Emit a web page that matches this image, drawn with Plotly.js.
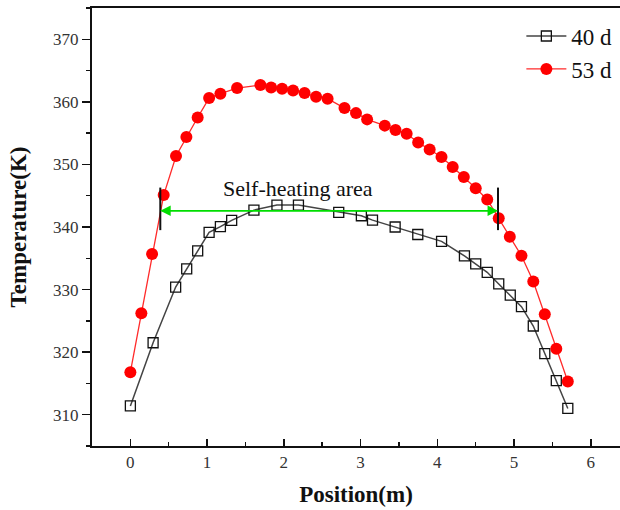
<!DOCTYPE html>
<html><head><meta charset="utf-8">
<script src="https://cdn.plot.ly/plotly-3.0.1.min.js"></script>
<style>html,body{margin:0;padding:0;overflow:hidden;background:#fff}</style>
</head><body><div id="chart" style="width:620px;height:510px"></div>
<script>
const pos40 = [0, 0.296, 0.590, 0.734, 0.877, 1.026, 1.173, 1.32, 1.61, 1.91, 2.19, 2.715, 3.01, 3.155, 3.45, 3.745, 4.055, 4.353, 4.50, 4.65, 4.80, 4.95, 5.096, 5.25, 5.40, 5.55, 5.70];
const temp40 = [311.4, 321.5, 330.4, 333.3, 336.2, 339.15, 340.05, 341.07, 342.7, 343.5, 343.5, 342.35, 341.8, 341.1, 340.0, 338.8, 337.7, 335.37, 334.1, 332.76, 330.9, 329.1, 327.26, 324.18, 319.75, 315.44, 311.0];
const pos53 = [0, 0.143, 0.283, 0.434, 0.595, 0.730, 0.877, 1.026, 1.173, 1.39, 1.694, 1.834, 1.977, 2.12, 2.27, 2.42, 2.57, 2.79, 2.94, 3.085, 3.315, 3.455, 3.60, 3.75, 3.90, 4.054, 4.20, 4.345, 4.50, 4.65, 4.80, 4.944, 5.096, 5.25, 5.40, 5.55, 5.70];
const temp53 = [316.8, 326.2, 335.7, 345.1, 351.35, 354.4, 357.5, 360.6, 361.3, 362.2, 362.7, 362.3, 362.1, 361.8, 361.4, 360.8, 360.5, 359.0, 358.2, 357.2, 356.2, 355.5, 354.9, 353.5, 352.4, 351.2, 349.6, 348.0, 346.2, 344.4, 341.4, 338.45, 335.4, 331.3, 326.05, 320.55, 315.3];
const seriesNames = ["40 d", "53 d"];
const areaLabel = "Self-heating area";
const areaStart = 0.39, areaEnd = 4.79, areaTemp = 342.6;

const serif = "Liberation Serif, Times New Roman, serif";
const traces = [
  {x: pos40, y: temp40, name: seriesNames[0], mode: "lines+markers", type: "scatter",
   line: {color: "#444444", width: 1.5},
   marker: {symbol: "square-open", size: 10, color: "#111111", line: {width: 1.3, color: "#111111"}}},
  {x: pos53, y: temp53, name: seriesNames[1], mode: "lines+markers", type: "scatter",
   line: {color: "#ff2a2a", width: 1.3},
   marker: {symbol: "circle", size: 12, color: "#ff0000", line: {width: 0}}}
];
const layout = {
  width: 620, height: 510,
  margin: {l: 92, r: 0, t: 8, b: 64},
  paper_bgcolor: "#fff", plot_bgcolor: "#fff",
  showlegend: true,
  legend: {x: 0.995, xanchor: "right", y: 0.985, yanchor: "top", bgcolor: "rgba(0,0,0,0)",
    font: {family: serif, size: 23, color: "#111"}, tracegroupgap: 0, itemwidth: 40},
  xaxis: {range: [-0.5, 6.38], dtick: 1, tick0: 0, showgrid: false, zeroline: false,
    showline: true, linecolor: "#111", linewidth: 2, mirror: true,
    ticks: "inside", ticklen: 7, tickwidth: 1.5, tickcolor: "#111",
    minor: {dtick: 0.5, ticks: "inside", ticklen: 4, tickwidth: 1.5, tickcolor: "#111", showgrid: false},
    tickfont: {family: serif, size: 17, color: "#333"},
    title: {text: "<b>Position(m)</b>", font: {family: serif, size: 23, color: "#111"}, standoff: 14}},
  yaxis: {range: [305, 375], dtick: 10, showgrid: false, zeroline: false,
    showline: true, linecolor: "#111", linewidth: 2,
    ticks: "outside", ticklen: 8, tickwidth: 1.5, tickcolor: "#111",
    minor: {dtick: 5, ticks: "outside", ticklen: 4, tickwidth: 1.5, tickcolor: "#111", showgrid: false},
    tickfont: {family: serif, size: 17, color: "#333"},
    title: {text: "<b>Temperature(K)</b>", font: {family: serif, size: 23, color: "#111"}, standoff: 20}},
  shapes: [
    {type: "line", xref: "x", yref: "y", x0: areaStart, x1: areaStart, y0: areaTemp + 3.7, y1: areaTemp - 3.1, line: {color: "#111", width: 2}},
    {type: "line", xref: "x", yref: "y", x0: areaEnd, x1: areaEnd, y0: areaTemp + 3.7, y1: areaTemp - 3.1, line: {color: "#111", width: 2}}
  ],
  annotations: [
    {xref: "x", yref: "y", x: areaStart, y: areaTemp, ax: areaEnd, ay: areaTemp, axref: "x", ayref: "y",
     showarrow: true, arrowhead: 2, arrowsize: 1.3, arrowwidth: 1.6, arrowcolor: "#00dd00", text: ""},
    {xref: "x", yref: "y", x: areaEnd, y: areaTemp, ax: areaStart, ay: areaTemp, axref: "x", ayref: "y",
     showarrow: true, arrowhead: 2, arrowsize: 1.3, arrowwidth: 1.6, arrowcolor: "#00dd00", text: ""},
    {xref: "x", yref: "y", x: 2.18, y: areaTemp + 1.2, yanchor: "bottom", showarrow: false, text: areaLabel,
     font: {family: serif, size: 22, color: "#111"}}
  ]
};
Plotly.newPlot("chart", traces, layout, {displayModeBar: false, staticPlot: true});
</script></body></html>
